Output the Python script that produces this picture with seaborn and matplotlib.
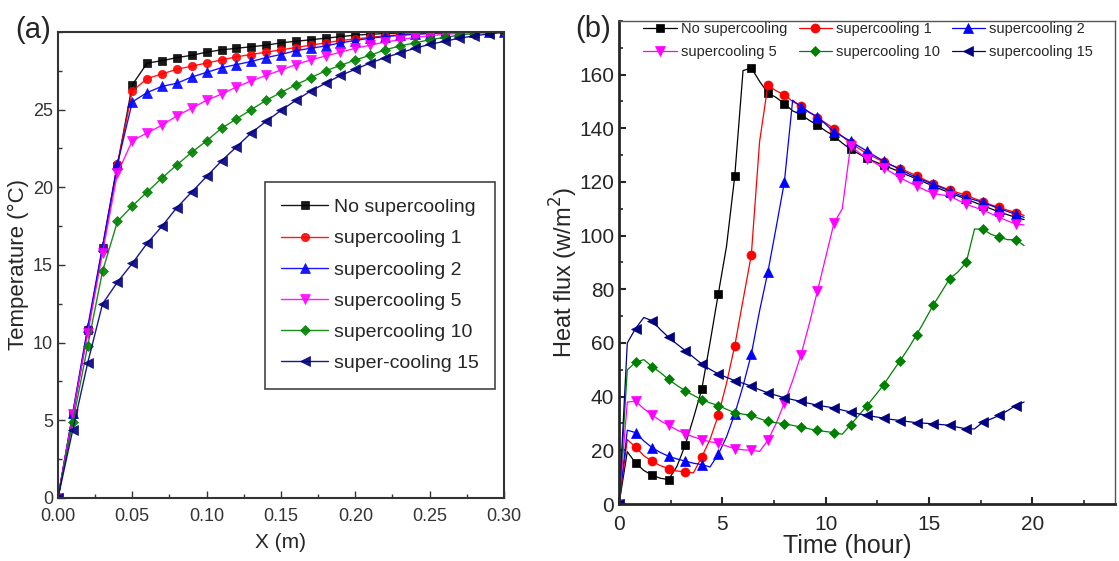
import matplotlib
matplotlib.use("Agg")
import matplotlib.pyplot as plt
import seaborn as sns
from matplotlib.ticker import MultipleLocator, FormatStrFormatter

sns.set_style("ticks")
plt.rcParams["font.family"] = ["Liberation Sans", "DejaVu Sans"]

# ---- panel (a): temperature profile along X ----
position_m = [0.00, 0.01, 0.02, 0.03, 0.04, 0.05, 0.06, 0.07, 0.08, 0.09, 0.10,
              0.11, 0.12, 0.13, 0.14, 0.15, 0.16, 0.17, 0.18, 0.19, 0.20,
              0.21, 0.22, 0.23, 0.24, 0.25, 0.26, 0.27, 0.28, 0.29, 0.30]
temp_none = [0, 5.4, 10.8, 16.1, 21.4, 26.6, 28.0, 28.15, 28.35, 28.5, 28.7, 28.85, 28.95,
             29.05, 29.15, 29.3, 29.4, 29.5, 29.6, 29.7, 29.8, 29.85, 29.9, 29.93, 29.95,
             29.97, 29.98, 29.99, 30.0, 30.0, 30.0]
temp_sc1 = [0, 5.4, 10.8, 16.1, 21.5, 26.2, 27.0, 27.3, 27.6, 27.8, 28.0, 28.2, 28.4,
            28.55, 28.7, 28.85, 29.0, 29.15, 29.3, 29.45, 29.55, 29.65, 29.75, 29.82,
            29.88, 29.92, 29.95, 29.97, 29.99, 30.0, 30.0]
temp_sc2 = [0, 5.5, 11.0, 16.2, 21.5, 25.5, 26.1, 26.5, 26.7, 27.1, 27.4, 27.7, 27.9,
            28.1, 28.35, 28.55, 28.8, 28.95, 29.1, 29.3, 29.45, 29.6, 29.7, 29.78,
            29.85, 29.9, 29.94, 29.97, 29.99, 30.0, 30.0]
temp_sc5 = [0, 5.4, 10.6, 15.8, 20.9, 23.0, 23.5, 24.0, 24.6, 25.1, 25.6, 26.0, 26.45,
            26.85, 27.2, 27.55, 27.9, 28.2, 28.45, 28.7, 28.95, 29.15, 29.35, 29.5,
            29.65, 29.75, 29.85, 29.92, 29.96, 29.99, 30.0]
temp_sc10 = [0, 4.9, 9.8, 14.6, 17.8, 18.8, 19.7, 20.6, 21.45, 22.25, 23.0, 23.8, 24.4,
             25.0, 25.6, 26.1, 26.6, 27.05, 27.5, 27.85, 28.2, 28.5, 28.85, 29.1, 29.3,
             29.5, 29.65, 29.8, 29.9, 29.97, 30.0]
temp_sc15 = [0, 4.4, 8.7, 12.5, 13.9, 15.1, 16.4, 17.5, 18.7, 19.7, 20.7, 21.7, 22.6,
             23.5, 24.25, 24.95, 25.6, 26.2, 26.7, 27.2, 27.6, 28.0, 28.35, 28.65, 28.95,
             29.2, 29.4, 29.6, 29.75, 29.88, 29.97]
labels_a = ["No supercooling", "supercooling 1", "supercooling 2",
            "supercooling 5", "supercooling 10", "super-cooling 15"]

# ---- panel (b): heat flux over time ----
time_h = [0.0, 0.4, 0.8, 1.2, 1.6, 2.0, 2.4, 2.8, 3.2, 3.6, 4.0, 4.4, 4.8, 5.2, 5.6,
          6.0, 6.4, 6.8, 7.2, 7.6, 8.0, 8.4, 8.8, 9.2, 9.6, 10.0, 10.4, 10.8, 11.2,
          11.6, 12.0, 12.4, 12.8, 13.2, 13.6, 14.0, 14.4, 14.8, 15.2, 15.6, 16.0,
          16.4, 16.8, 17.2, 17.6, 18.0, 18.4, 18.8, 19.2, 19.6]
flux_none = [0, 19.5, 15.3, 12.5, 10.7, 9.6, 9.1, 14.0, 21.9, 32.0, 42.7, 60.0, 78.2,
             96.0, 122.3, 161.5, 162.5, 157.5, 153.2, 151.5, 149.2, 146.5, 145.1, 143.0,
             141.2, 139.0, 137.1, 134.5, 132.2, 130.5, 128.8, 127.5, 126.2, 125.0,
             123.7, 122.4, 121.1, 119.8, 118.5, 117.2, 116.0, 114.8, 113.6, 112.4,
             111.2, 110.0, 108.8, 107.8, 106.8, 106.0]
flux_sc1 = [0, 24.0, 21.2, 18.0, 15.9, 14.3, 13.2, 12.3, 12.0, 11.6, 17.5, 24.0, 33.0,
            45.0, 59.0, 76.0, 92.8, 135.0, 156.0, 154.0, 152.5, 150.0, 148.3, 146.0,
            144.0, 142.0, 139.8, 137.0, 134.5, 132.5, 130.5, 129.0, 127.5, 126.2,
            125.0, 123.7, 122.3, 120.8, 119.4, 118.2, 117.0, 116.0, 115.1, 113.8,
            112.7, 111.5, 110.5, 109.5, 108.6, 107.5]
flux_sc2 = [0, 27.5, 26.6, 23.5, 21.0, 19.2, 17.8, 16.8, 16.0, 15.2, 14.7, 13.8, 18.5,
            25.0, 33.6, 44.0, 55.8, 72.0, 86.4, 103.0, 120.0, 150.5, 148.0, 146.0,
            144.3, 141.5, 138.6, 137.0, 135.2, 133.3, 131.5, 129.6, 127.8, 126.2,
            124.7, 123.1, 121.6, 120.4, 119.2, 117.9, 116.7, 115.4, 114.2, 113.3,
            112.4, 111.2, 110.1, 109.0, 108.0, 106.8]
flux_sc5 = [0, 38.0, 38.3, 35.5, 33.2, 31.0, 29.3, 27.6, 26.2, 25.0, 24.0, 23.2, 22.7,
            21.6, 20.6, 20.2, 20.0, 19.6, 23.7, 30.0, 37.7, 46.0, 55.5, 67.0, 79.4,
            92.0, 104.7, 110.0, 133.4, 131.0, 128.7, 127.0, 125.3, 123.5, 121.6,
            120.0, 118.5, 117.0, 115.7, 115.2, 114.8, 113.2, 111.7, 110.6, 109.5,
            108.2, 106.8, 105.5, 104.3, 104.0]
flux_sc10 = [0, 50.0, 52.8, 53.8, 51.2, 49.0, 46.4, 44.2, 42.2, 40.5, 38.9, 37.7, 36.7,
             35.3, 34.0, 33.5, 33.0, 31.8, 30.8, 30.3, 29.9, 29.3, 28.7, 28.0, 27.4,
             27.0, 26.6, 26.0, 29.5, 33.0, 36.7, 40.5, 44.4, 49.0, 53.4, 58.0, 63.1,
             68.5, 74.1, 79.0, 84.0, 86.5, 90.1, 102.5, 102.4, 100.5, 99.4, 98.5,
             98.5, 96.3]
flux_sc15 = [0, 60.0, 65.4, 69.5, 68.3, 65.0, 62.1, 59.6, 57.2, 54.7, 52.2, 50.2, 48.5,
             47.2, 46.0, 45.0, 43.9, 42.6, 41.4, 40.5, 39.6, 38.9, 38.2, 37.5, 36.8,
             36.3, 35.8, 35.0, 34.3, 33.6, 33.0, 32.5, 32.0, 31.5, 31.1, 30.7, 30.3,
             30.1, 29.9, 29.6, 29.3, 28.6, 28.0, 28.0, 30.5, 31.7, 33.0, 34.8, 36.7,
             38.0]
labels_b = ["No supercooling", "supercooling 1", "supercooling 2",
            "supercooling 5", "supercooling 10", "supercooling 15"]

colors = ["#000000", "#ff0000", "#0000ff", "#ff00ff", "#008000", "#000080"]
markers = ["s", "o", "^", "v", "D", "<"]
msizes = [6, 6.5, 7, 7, 5.5, 7]

fig = plt.figure(figsize=(11.19, 5.61), dpi=100)
ax_a = fig.add_axes([0.0518, 0.1123, 0.3986, 0.8307])
ax_b = fig.add_axes([0.5532, 0.1016, 0.4433, 0.861])

# Panel (a)
series_a = [temp_none, temp_sc1, temp_sc2, temp_sc5, temp_sc10, temp_sc15]
for vals, lab, c, m, ms in zip(series_a, labels_a, colors, markers, msizes):
    sns.lineplot(x=position_m, y=vals, ax=ax_a, color=c, marker=m, markersize=ms - 0.5,
                 markeredgecolor=c, markeredgewidth=0.5, linewidth=1.0, alpha=0.9,
                 label=lab, estimator=None)

ax_a.set_xlim(0, 0.30)
ax_a.set_ylim(0, 30)
ax_a.set_xticks([0.00, 0.05, 0.10, 0.15, 0.20, 0.25, 0.30])
ax_a.set_yticks([0, 5, 10, 15, 20, 25])
ax_a.xaxis.set_major_formatter(FormatStrFormatter("%.2f"))
ax_a.xaxis.set_minor_locator(MultipleLocator(0.025))
ax_a.yaxis.set_minor_locator(MultipleLocator(2.5))
ax_a.tick_params(which="major", direction="in", length=5, width=1, labelsize=13,
                 colors="#333333")
ax_a.tick_params(axis="x", which="major", pad=7)
ax_a.tick_params(which="minor", direction="in", length=3, width=1, colors="#333333")
for s in ax_a.spines.values():
    s.set_color("#333333")
    s.set_linewidth(1.5)
ax_a.set_xlabel("X (m)", fontsize=15)
ax_a.xaxis.set_label_coords(0.5, -0.075)
ax_a.set_ylabel("Temperature (°C)", fontsize=16)
ax_a.yaxis.set_label_coords(-0.066, 0.5)
leg_a = ax_a.legend(loc="upper left", bbox_to_anchor=(0.464, 0.678), borderaxespad=0,
                    fontsize=14, handlelength=2.4, handletextpad=0.3, labelspacing=0.7,
                    borderpad=0.85, fancybox=False, edgecolor="#444444", framealpha=1)
leg_a.get_frame().set_linewidth(1.2)

# Panel (b)
series_b = [flux_none, flux_sc1, flux_sc2, flux_sc5, flux_sc10, flux_sc15]
for vals, lab, c, m, ms in zip(series_b, labels_b, colors, markers, msizes):
    sns.lineplot(x=time_h, y=vals, ax=ax_b, color=c, marker=m, markersize=ms,
                 markevery=2, markeredgecolor=c, markeredgewidth=0.5, linewidth=0.9,
                 label=lab, estimator=None)

ax_b.set_xlim(0, 24)
ax_b.set_ylim(0, 180)
ax_b.set_xticks([0, 5, 10, 15, 20])
ax_b.set_yticks([0, 20, 40, 60, 80, 100, 120, 140, 160])
ax_b.xaxis.set_minor_locator(MultipleLocator(2.5))
ax_b.yaxis.set_minor_locator(MultipleLocator(10))
ax_b.tick_params(which="major", direction="in", length=5, width=1.5, labelsize=15)
ax_b.tick_params(axis="x", which="major", pad=8)
ax_b.tick_params(which="minor", direction="in", length=3, width=1.2)
ax_b.spines["left"].set_linewidth(2)
ax_b.spines["bottom"].set_linewidth(2)
ax_b.spines["top"].set_linewidth(1)
ax_b.spines["top"].set_color("#555555")
ax_b.spines["right"].set_linewidth(1)
ax_b.spines["right"].set_color("#555555")
ax_b.set_xlabel("Time (hour)", fontsize=18)
ax_b.xaxis.set_label_coords(0.46, -0.062)
ax_b.set_ylabel("Heat flux (w/m$^2$)", fontsize=17)
ax_b.yaxis.set_label_coords(-0.079, 0.48)

handles, labs = ax_b.get_legend_handles_labels()
order = [0, 3, 1, 4, 2, 5]
ax_b.legend([handles[i] for i in order], [labs[i] for i in order], ncol=3,
            loc="upper left", bbox_to_anchor=(0.0425, 1.004), borderaxespad=0,
            frameon=False, fontsize=10.5, handlelength=2.3, handletextpad=0.27,
            columnspacing=0.8, labelspacing=0.62, borderpad=0.2)

fig.text(0.0295, 0.9465, "(a)", fontsize=21, ha="center", va="center")
fig.text(0.530, 0.949, "(b)", fontsize=21, ha="center", va="center")

fig.savefig("out.png", dpi=100)
